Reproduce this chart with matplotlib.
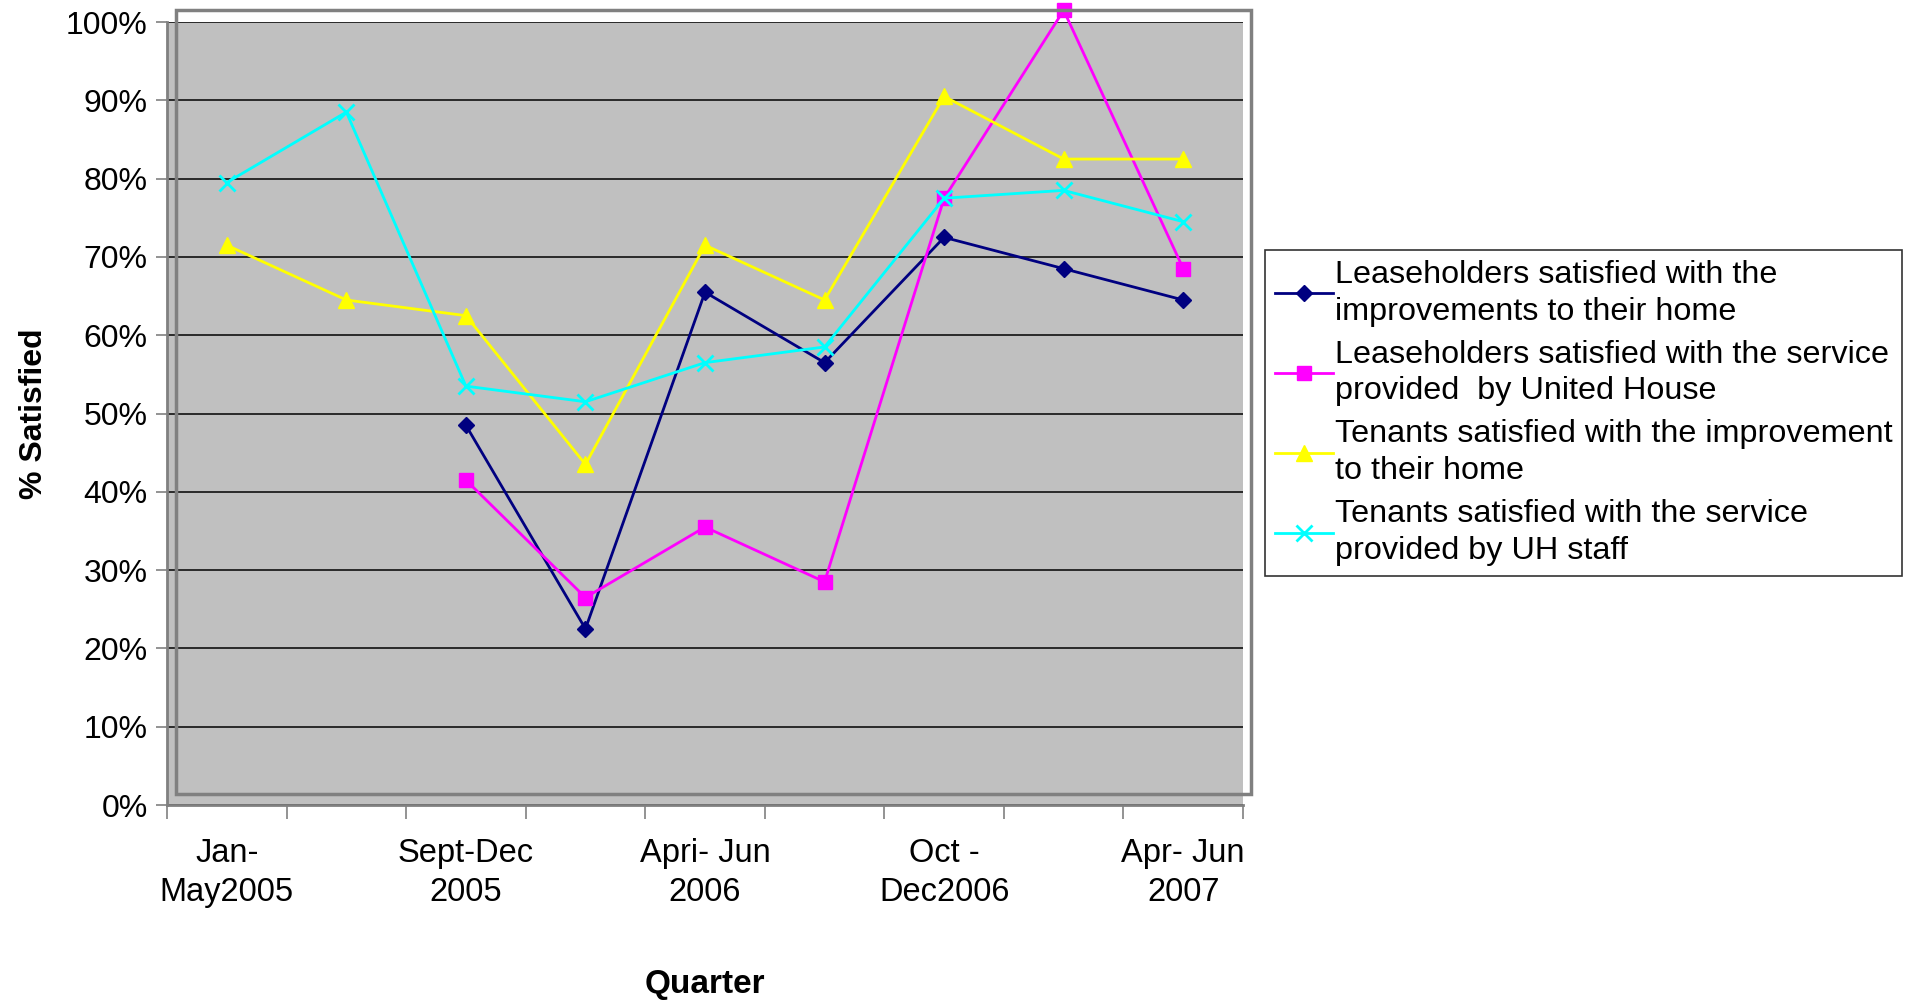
import numpy as np
import matplotlib.pyplot as plt
from matplotlib.patches import Rectangle

plt.rcParams['font.family'] = ['Liberation Sans', 'DejaVu Sans']

# Quarters (only every other one carries a label)
quarters = ['Jan-\nMay2005', '', 'Sept-Dec\n2005', '', 'Apri- Jun\n2006', '',
            'Oct -\nDec2006', '', 'Apr- Jun\n2007']

# % satisfied per quarter (nan = no survey that quarter)
lease_improve = [np.nan, np.nan, 48.5, 22.5, 65.5, 56.5, 72.5, 68.5, 64.5]
lease_service = [np.nan, np.nan, 41.5, 26.5, 35.5, 28.5, 77.5, 101.5, 68.5]
tenant_improve = [71.5, 64.5, 62.5, 43.5, 71.5, 64.5, 90.5, 82.5, 82.5]
tenant_service = [79.5, 88.5, 53.5, 51.5, 56.5, 58.5, 77.5, 78.5, 74.5]

series_names = ['Leaseholders satisfied with the\nimprovements to their home',
                'Leaseholders satisfied with the service\nprovided  by United House',
                'Tenants satisfied with the improvement\nto their home',
                'Tenants satisfied with the service\nprovided by UH staff']

fig = plt.figure(figsize=(19.15, 10.02), dpi=100)
ax = fig.add_axes([0.0872, 0.1966, 0.5619, 0.7814])
ax.set_facecolor('#C0C0C0')

x = np.arange(len(quarters))
ax.plot(x, np.array(lease_improve) / 100, color='#000080', lw=2, marker='D',
        ms=8, label=series_names[0], clip_on=False, zorder=5)
ax.plot(x, np.array(lease_service) / 100, color='#FF00FF', lw=2, marker='s',
        ms=10, label=series_names[1], clip_on=False, zorder=5)
ax.plot(x, np.array(tenant_improve) / 100, color='#FFFF00', lw=2, marker='^',
        ms=11, label=series_names[2], clip_on=False, zorder=5)
ax.plot(x, np.array(tenant_service) / 100, color='#00FFFF', lw=2, marker='x',
        ms=11, mew=2, label=series_names[3], clip_on=False, zorder=5)

# axes
ax.set_xlim(-0.5, 8.5)
ax.set_ylim(0, 1)
ax.set_yticks(np.arange(0, 1.01, 0.1))
ax.set_yticklabels([f'{int(round(v * 100))}%' for v in np.arange(0, 1.01, 0.1)],
                   fontsize=23)
ax.yaxis.grid(True, color='#101010', lw=1.2)
ax.set_axisbelow(True)

ax.set_xticks(x)
ax.set_xticklabels(quarters, fontsize=23.5, linespacing=1.3)
ax.set_xticks(np.arange(-0.5, 9, 1), minor=True)
ax.tick_params(axis='x', which='major', length=0, pad=24)
ax.tick_params(axis='x', which='minor', length=10, width=1.2, color='#808080')
ax.tick_params(axis='y', length=8, width=1.2, color='#808080', pad=6)

for s in ['top', 'right']:
    ax.spines[s].set_visible(False)
for s in ['left', 'bottom']:
    ax.spines[s].set_color('#808080')
    ax.spines[s].set_linewidth(2)

ax.set_ylabel('% Satisfied', fontsize=23, fontweight='bold', labelpad=12)
ax.set_xlabel('Quarter', fontsize=24, fontweight='bold', labelpad=44)

# plot area border (offset like the original)
fig.patches.append(Rectangle((0.0919, 0.2076), 0.5614, 0.7824, transform=fig.transFigure,
                             fill=False, edgecolor='#808080', lw=2.5, zorder=10))

leg = fig.legend(loc='upper left', bbox_to_anchor=(0.6606, 0.7505), fontsize=23.3,
                 frameon=True, fancybox=False, edgecolor='black', handlelength=1.8,
                 handletextpad=0.05, borderpad=0.3, labelspacing=0.4, borderaxespad=0)
leg.get_frame().set_linewidth(1.2)
for t in leg.get_texts():
    t.set_linespacing(1.3)

fig.savefig('out.png', dpi=100)
